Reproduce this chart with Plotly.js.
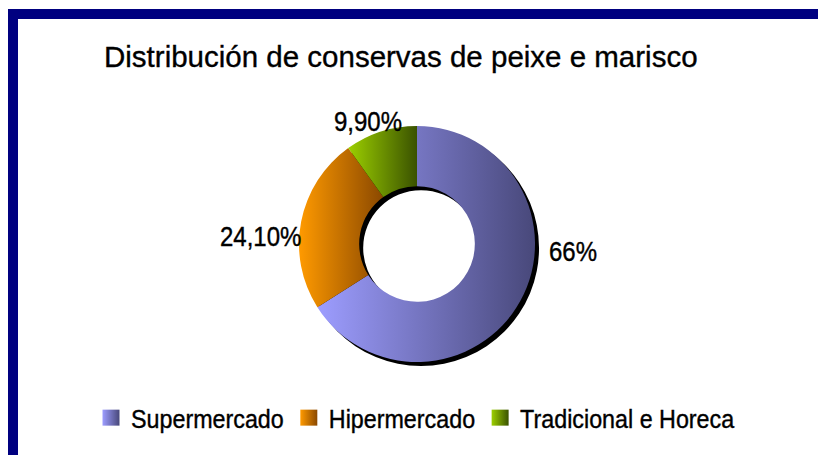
<!DOCTYPE html>
<html>
<head>
<meta charset="utf-8">
<script src="https://cdn.plot.ly/plotly-3.0.1.min.js"></script>
<style>
  html, body { margin: 0; padding: 0; background: #fff; }
  #chart { width: 818px; height: 455px; }
</style>
</head>
<body>
<div id="chart"></div>
<script>
// ---- data ----
const categories = ['Supermercado', 'Hipermercado', 'Tradicional e Horeca'];
const shares = [66, 24.1, 9.9];
const shareLabels = ['66%', '24,10%', '9,90%'];
const chartTitle = 'Distribución de conservas de peixe e marisco';

// ---- styling ----
const gradients = [
  ['#9d9dff', '#48487a'],
  ['#ff9a00', '#8a4800'],
  ['#9ccf00', '#3a5200']
];
const fontFam = '"Liberation Sans", Arial, Helvetica, sans-serif';
const W = 818, H = 455;
const cx = 417, cy = 244, R = 118, shadowOff = 4;

const dom = (ox, oy) => ({
  x: [(cx - R + ox) / W, (cx + R + ox) / W],
  y: [(H - cy - R - oy) / H, (H - cy + R - oy) / H]
});

const shadow = {
  type: 'pie',
  values: [1],
  labels: ['shadow'],
  hole: 0.49,
  sort: false,
  textinfo: 'none',
  showlegend: false,
  hoverinfo: 'skip',
  marker: { colors: ['#000000'], line: { width: 0 } },
  domain: dom(shadowOff, shadowOff)
};

const main = {
  type: 'pie',
  values: shares,
  labels: categories,
  hole: 0.49,
  sort: false,
  direction: 'clockwise',
  rotation: 0,
  textinfo: 'none',
  hoverinfo: 'skip',
  marker: { colors: gradients.map(g => g[0]), line: { width: 0 } },
  domain: dom(0, 0)
};

// label anchor positions (px) for the outside value labels
const labelPos = [
  { x: 547, y: 251, xanchor: 'left' },
  { x: 303, y: 236, xanchor: 'right' },
  { x: 368, y: 122, xanchor: 'center' }
];

const annotations = shareLabels.map((t, i) => ({
  text: t,
  xref: 'paper', yref: 'paper',
  x: labelPos[i].x / W, y: 1 - labelPos[i].y / H,
  xanchor: labelPos[i].xanchor, yanchor: 'middle',
  showarrow: false,
  font: { family: fontFam, size: 24, color: '#000' }
}));

const navy = '#000080';
const layout = {
  width: W, height: H,
  margin: { l: 0, r: 0, t: 0, b: 0 },
  paper_bgcolor: '#ffffff',
  plot_bgcolor: '#ffffff',
  title: {
    text: chartTitle,
    x: 104 / W, xanchor: 'left', xref: 'container',
    y: 1 - 57 / H, yanchor: 'middle', yref: 'container',
    font: { family: fontFam, size: 29.5, color: '#000' }
  },
  showlegend: true,
  legend: {
    orientation: 'h',
    x: 91 / W, xanchor: 'left',
    y: 1 - 418 / H, yanchor: 'middle',
    font: { family: fontFam, size: 23.3, color: '#000' },
    bgcolor: 'rgba(0,0,0,0)',
    itemwidth: 30
  },
  annotations: annotations,
  shapes: [
    { type: 'rect', xref: 'paper', yref: 'paper', x0: 8 / W, x1: 1, y0: 1 - 19 / H, y1: 1 - 9 / H, fillcolor: navy, line: { width: 0 } },
    { type: 'rect', xref: 'paper', yref: 'paper', x0: 8 / W, x1: 18 / W, y0: 0, y1: 1 - 9 / H, fillcolor: navy, line: { width: 0 } }
  ]
};

function stretchText(el, sy) {
  el.style.transformBox = 'fill-box';
  el.style.transformOrigin = '50% 50%';
  el.style.transform = 'scaleY(' + sy + ')';
  el.style.stroke = '#000';
  el.style.strokeWidth = '0.35px';
}

Plotly.newPlot('chart', [shadow, main], layout, { staticPlot: true, displayModeBar: false }).then(gd => {
  const ns = 'http://www.w3.org/2000/svg';
  const svg = gd.querySelector('svg.main-svg');
  let defs = svg.querySelector('defs');
  if (!defs) { defs = document.createElementNS(ns, 'defs'); svg.insertBefore(defs, svg.firstChild); }
  gradients.forEach((g, i) => {
    const lg = document.createElementNS(ns, 'linearGradient');
    lg.setAttribute('id', 'sliceGrad' + i);
    lg.setAttribute('x1', '0'); lg.setAttribute('y1', '0');
    lg.setAttribute('x2', '1'); lg.setAttribute('y2', '0');
    [[0, g[0]], [1, g[1]]].forEach(([o, c]) => {
      const s = document.createElementNS(ns, 'stop');
      s.setAttribute('offset', o);
      s.setAttribute('stop-color', c);
      lg.appendChild(s);
    });
    defs.appendChild(lg);
  });
  const traces = gd.querySelectorAll('.pielayer .trace');
  const mainTrace = traces[traces.length - 1];
  mainTrace.querySelectorAll('.slice path.surface').forEach((p, i) => {
    p.style.fill = 'url(#sliceGrad' + i + ')';
  });
  gd.querySelectorAll('.legend .traces').forEach((t, i) => {
    const p = t.querySelector('.legendpoints path');
    if (p) {
      p.style.fill = 'url(#sliceGrad' + i + ')';
      p.setAttribute('d', 'M8.5,8H-8.5V-8H8.5Z');
    }
    const tx = t.querySelector('text.legendtext');
    if (tx) stretchText(tx, 1.1);
  });
  gd.querySelectorAll('.annotation-text').forEach(tx => stretchText(tx, 1.15));
  const tt = gd.querySelector('.gtitle');
  if (tt) { tt.style.stroke = '#000'; tt.style.strokeWidth = '0.35px'; }
});
</script>
</body>
</html>
